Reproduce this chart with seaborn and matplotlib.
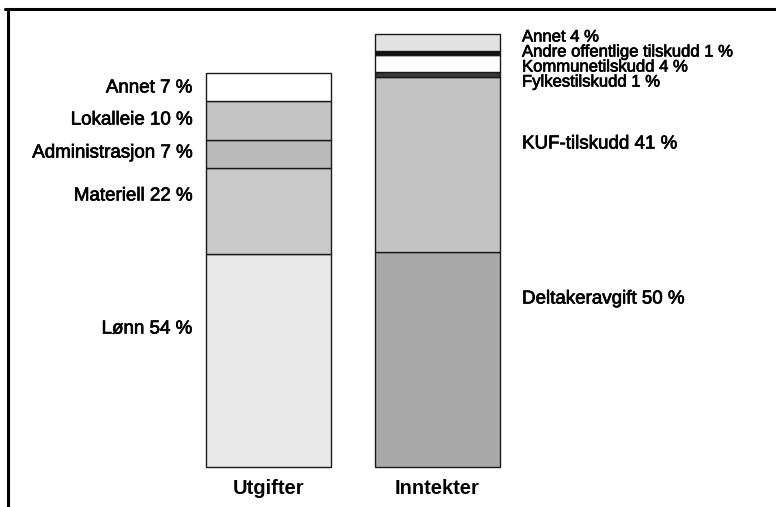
#stacked bar chart of expenses and income (Utgifter / Inntekter)

import matplotlib
matplotlib.use("Agg")
import matplotlib.pyplot as plt
import matplotlib.patheffects as pe
from matplotlib.lines import Line2D
import seaborn as sns

#categories on the x axis
bars = ["Utgifter", "Inntekter"]

#relative size of each bar (Inntekter bar is taller than Utgifter)
bar_totals = [100, 110]

#expense parts, bottom to top
utg_names = ["Lønn", "Materiell", "Administrasjon", "Lokalleie", "Annet"]
utg_pct = [54, 22, 7, 10, 7]

#income parts, bottom to top
inn_names = ["Deltakeravgift", "KUF-tilskudd", "Fylkestilskudd", "Kommunetilskudd",
             "Andre offentlige tilskudd", "Annet"]
inn_pct = [50, 41, 1, 4, 1, 4]

#fill colours for each segment
utg_colors = ["#e9e9e9", "#c9c9c9", "#bababa", "#c4c4c4", "#ffffff"]
inn_colors = ["#a9a9a9", "#c3c3c3", "#3a3a3a", "#ffffff", "#111111", "#e2e2e2"]

#label heights in pixels from the top of the picture
utg_label_px = [329, 196, 153, 120, 88]
inn_label_px = [299, 144, 82, 67, 52, 37]

#font size per income label (the four small parts are packed tight)
inn_label_size = [13.5, 13.5, 12, 12, 12, 12]

sns.set_style("white")
plt.rcParams['font.family'] = ['Liberation Sans', 'DejaVu Sans']

fig = plt.figure(figsize=(7.76, 5.07), dpi=100)
ax = fig.add_axes([0, 0, 1, 1])

#pixel scale: bar bottom at y=467 px, 100 units = 394 px
px_per_unit = 3.94
base_px = 467


def px_to_y(py):
    return (base_px - py) / px_per_unit


def draw_stack(cat, pcts, colors, total):
    bottom = 0
    scale = total / sum(pcts)
    for pct, col in zip(pcts, colors):
        h = pct * scale
        sns.barplot(x=[cat], y=[h], order=bars, bottom=bottom, color=col,
                    saturation=1, width=0.74, edgecolor="#1a1a1a", linewidth=1.0, ax=ax)
        bottom += h


draw_stack(bars[0], utg_pct, utg_colors, bar_totals[0])
draw_stack(bars[1], inn_pct, inn_colors, bar_totals[1])

#axes limits so the bars land where the reference has them
ax.set_xlim(-1.589, 3.003)
ax.set_ylim(px_to_y(507), px_to_y(0))
ax.axis("off")

#slightly heavier text like the scanned original
heavy = [pe.withStroke(linewidth=0.5, foreground="black")]

#segment labels
for name, pct, py in zip(utg_names, utg_pct, utg_label_px):
    ax.text(-0.45, px_to_y(py), f"{name} {pct} %", ha="right", va="center",
            fontsize=13.5, color="black", path_effects=heavy)

for name, pct, py, fs in zip(inn_names, inn_pct, inn_label_px, inn_label_size):
    ax.text(1.5, px_to_y(py), f"{name} {pct} %", ha="left", va="center",
            fontsize=fs, color="black", path_effects=heavy)

#bar names below the bars
for i, cat in enumerate(bars):
    ax.text(i, px_to_y(488), cat, ha="center", va="center", fontsize=14.5,
            fontweight="bold", color="black")

#frame lines (top and left only)
fig.add_artist(Line2D([5 / 776, 1], [1 - 9 / 507, 1 - 9 / 507], color="black", linewidth=2.2))
fig.add_artist(Line2D([8 / 776, 8 / 776], [0, 1 - 9 / 507], color="black", linewidth=2.2))

fig.savefig("out.png", dpi=100)
